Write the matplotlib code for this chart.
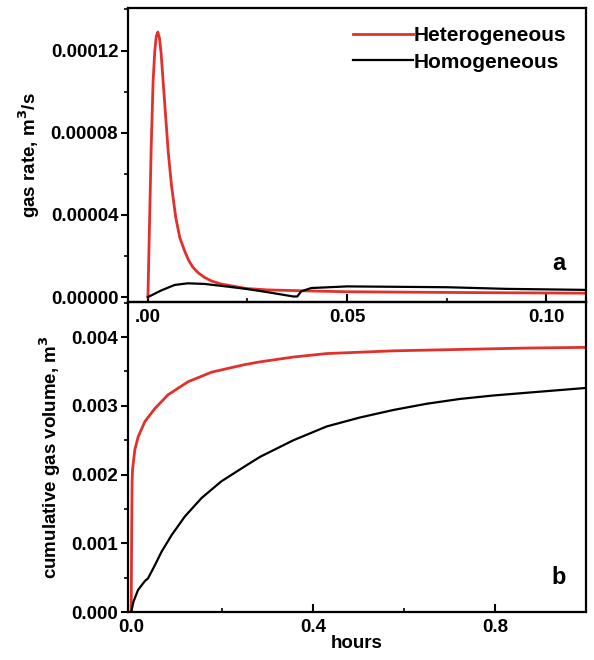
import matplotlib
matplotlib.use("Agg")
import matplotlib.pyplot as plt
from matplotlib.ticker import MultipleLocator, FixedLocator

plt.rcParams['font.family'] = ['Liberation Sans', 'DejaVu Sans']
plt.rcParams['font.weight'] = 'bold'

RED = '#e2312c'

# gas rate vs time (hours)
t_rate_het = [0, 0.0008, 0.0013, 0.0017, 0.0021, 0.0025, 0.0029, 0.0033, 0.0039,
              0.0045, 0.0051, 0.0059, 0.0070, 0.0080, 0.0092, 0.0102, 0.0113, 0.0127,
              0.0142, 0.016, 0.0183, 0.0246, 0.030, 0.038, 0.05, 0.08, 0.11]
rate_het = [0, 7.1e-5, 0.000105, 0.000119, 0.000127, 0.000129, 0.000126, 0.000119,
            0.0001028, 8.67e-5, 7.07e-5, 5.46e-5, 3.86e-5, 2.9e-5, 2.25e-5, 1.8e-5,
            1.45e-5, 1.17e-5, 9.6e-6, 7.8e-6, 6.4e-6, 4.2e-6, 3.5e-6, 3.1e-6, 2.6e-6,
            2.2e-6, 1.9e-6]
t_rate_hom = [0, 0.0033, 0.0067, 0.010, 0.0142, 0.020, 0.0246, 0.030, 0.0365, 0.0375,
              0.0385, 0.041, 0.05, 0.075, 0.09, 0.11]
rate_hom = [0, 3.2e-6, 5.9e-6, 6.7e-6, 6.4e-6, 5.1e-6, 4.0e-6, 2.4e-6, 3e-7, 3e-7,
            2.8e-6, 4.4e-6, 5.2e-6, 4.8e-6, 4.0e-6, 3.5e-6]

# cumulative gas volume vs time (hours)
t_vol_het = [0, 0.001, 0.002, 0.003, 0.008, 0.0154, 0.030, 0.052, 0.081, 0.125,
             0.177, 0.25, 0.284, 0.357, 0.43, 0.577, 0.723, 0.87, 1.0]
vol_het = [0, 0.0011, 0.0019, 0.00207, 0.00236, 0.00255, 0.00277, 0.00296, 0.00316,
           0.00335, 0.00349, 0.00360, 0.00364, 0.00371, 0.00376, 0.0038, 0.00382,
           0.00384, 0.00385]
t_vol_hom = [0, 0.005, 0.015, 0.030, 0.037, 0.052, 0.067, 0.089, 0.118, 0.155, 0.198,
             0.25, 0.284, 0.357, 0.43, 0.503, 0.577, 0.65, 0.723, 0.796, 0.87, 1.0]
vol_hom = [0, 0.00015, 0.00032, 0.00045, 0.00049, 0.00068, 0.00088, 0.00112, 0.00139,
           0.00166, 0.0019, 0.00212, 0.00226, 0.0025, 0.0027, 0.00283, 0.00294,
           0.00303, 0.0031, 0.00315, 0.00319, 0.00326]

fig = plt.figure(figsize=(5.94, 6.6), dpi=100)
ax1 = fig.add_axes([0.2155, 0.5424, 0.771, 0.4455])
ax2 = fig.add_axes([0.2155, 0.0727, 0.771, 0.4697])
ax1.set_zorder(3)
ax1.patch.set_alpha(0)

ax1.plot(t_rate_het, rate_het, color=RED, lw=2, label='Heterogeneous')
ax1.plot(t_rate_hom, rate_hom, color='black', lw=1.6, label='Homogeneous')
ax1.set_xlim(-0.005, 0.110)
ax1.set_ylim(-2.4e-6, 0.0001407)
ax1.yaxis.set_major_locator(FixedLocator([0, 0.00004, 0.00008, 0.00012]))
ax1.set_yticklabels(['0.00000', '0.00004', '0.00008', '0.00012'])
ax1.yaxis.set_minor_locator(MultipleLocator(0.00002))
ax1.xaxis.set_major_locator(FixedLocator([0, 0.05, 0.10]))
ax1.set_xticklabels(['.00', '0.05', '0.10'])
ax1.xaxis.set_minor_locator(MultipleLocator(0.025))
ax1.set_ylabel('gas rate, m$^\\mathbf{3}$/s', fontsize=13.5, fontweight='bold', labelpad=6)
ax1.text(0.955, 0.13, 'a', transform=ax1.transAxes, fontsize=17, fontweight='bold',
         ha='right', va='center')
leg = ax1.legend(loc='upper right', frameon=False, fontsize=15, handlelength=2.9,
                 handletextpad=0.05, borderaxespad=0.2, labelspacing=0.35,
                 bbox_to_anchor=(0.985, 0.98))

ax2.plot(t_vol_het, vol_het, color=RED, lw=2)
ax2.plot(t_vol_hom, vol_hom, color='black', lw=1.6)
ax2.set_xlim(-0.007, 1.0)
ax2.set_ylim(0, 0.00451)
ax2.yaxis.set_major_locator(FixedLocator([0, 0.001, 0.002, 0.003, 0.004]))
ax2.set_yticklabels(['0.000', '0.001', '0.002', '0.003', '0.004'])
ax2.yaxis.set_minor_locator(MultipleLocator(0.0005))
ax2.xaxis.set_major_locator(FixedLocator([0, 0.4, 0.8]))
ax2.set_xticklabels(['0.0', '0.4', '0.8'])
ax2.xaxis.set_minor_locator(MultipleLocator(0.2))
ax2.set_ylabel('cumulative gas volume, m$^\\mathbf{3}$', fontsize=13.5,
               fontweight='bold', labelpad=6)
ax2.set_xlabel('hours', fontsize=13.5, fontweight='bold', labelpad=-1)
ax2.text(0.955, 0.11, 'b', transform=ax2.transAxes, fontsize=17, fontweight='bold',
         ha='right', va='center')

for ax in (ax1, ax2):
    for s in ax.spines.values():
        s.set_linewidth(1.6)
    ax.tick_params(axis='y', which='major', direction='out', length=5, width=1.5,
                   labelsize=13.5, pad=2)
    ax.tick_params(axis='y', which='minor', direction='out', length=3, width=1.2)
    ax.tick_params(axis='x', which='major', direction='in', length=6, width=1.5,
                   labelsize=13.5, pad=5)
    ax.tick_params(axis='x', which='minor', direction='in', length=3, width=1.2)
    for lbl in ax.get_xticklabels() + ax.get_yticklabels():
        lbl.set_fontweight('bold')

fig.savefig('out.png', dpi=100)
